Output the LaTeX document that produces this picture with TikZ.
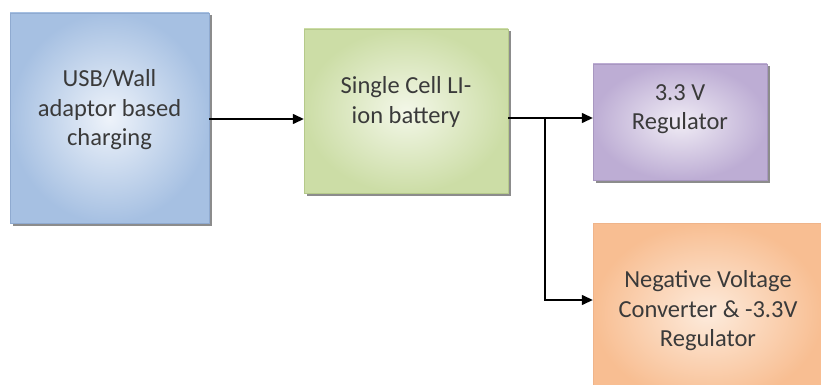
\documentclass[tikz,border=0pt]{standalone}
\usepackage{fontspec}
\setmainfont{Carlito}
\usetikzlibrary{arrows.meta,shadows}
\definecolor{txt}{HTML}{3A3A3A}
\definecolor{bdb}{HTML}{8FAAD0}
\definecolor{bdg}{HTML}{B5C98A}
\definecolor{bdp}{HTML}{A897C0}
\definecolor{bdo}{HTML}{EFB48A}
\definecolor{b1in}{HTML}{EEF3FA}
\definecolor{b1out}{HTML}{A6C0E2}
\definecolor{b2in}{HTML}{F3F7E8}
\definecolor{b2out}{HTML}{CCDDA6}
\definecolor{b3in}{HTML}{F0ECF5}
\definecolor{b3out}{HTML}{BDADD4}
\definecolor{b4in}{HTML}{FDEBDC}
\definecolor{b4out}{HTML}{F8BE92}
\tikzset{
  blockbox/.style={draw=#1, line width=0.4pt, inner sep=0pt,
    drop shadow={shadow xshift=2.5pt, shadow yshift=-2.5pt, fill=black!45, opacity=1}},
  lbl/.style={text=txt, align=center, font=\fontsize{24.5}{29.5}\selectfont, inner sep=0pt},
  conn/.style={line width=1.4pt, -{Triangle[length=11pt,width=10pt]}},
}
\begin{document}
\begin{tikzpicture}[x=1pt,y=-1pt]
\useasboundingbox (0,0) rectangle (821,385);
\fill[white] (0,0) rectangle (821,385);
\node[blockbox=bdb, minimum width=199pt, minimum height=210pt,
  inner color=b1in, outer color=b1out] (b1) at (109.5,118) {};
\node[blockbox=bdg, minimum width=204pt, minimum height=164pt,
  inner color=b2in, outer color=b2out] (b2) at (406,111) {};
\node[blockbox=bdp, minimum width=174pt, minimum height=116pt,
  inner color=b3in, outer color=b3out] (b3) at (680,122) {};
\begin{scope}
\clip (0,0) rectangle (821,385);
\node[blockbox=bdo, minimum width=230pt, minimum height=180pt,
  inner color=b4in, outer color=b4out] (b4) at (708,313) {};
\end{scope}
\node[lbl] (t1) at (109.5,110) {USB/Wall\\adaptor based\\charging};
\node[lbl] (t2) at (406,102) {Single Cell LI-\\ion battery};
\node[lbl] (t3) at (680,109) {3.3 V\\Regulator};
\node[lbl] (t4) at (708,311) {Negative Voltage\\Converter \& -3.3V\\Regulator};
\draw[conn] (b1.east |- 0,119) -- (b2.west |- 0,119);
\draw[conn] (b2.east |- 0,118) -- (b3.west |- 0,118);
\coordinate (br) at (545,118);
\draw[conn] (br) |- (b4.west |- 0,300);
\end{tikzpicture}
\end{document}
